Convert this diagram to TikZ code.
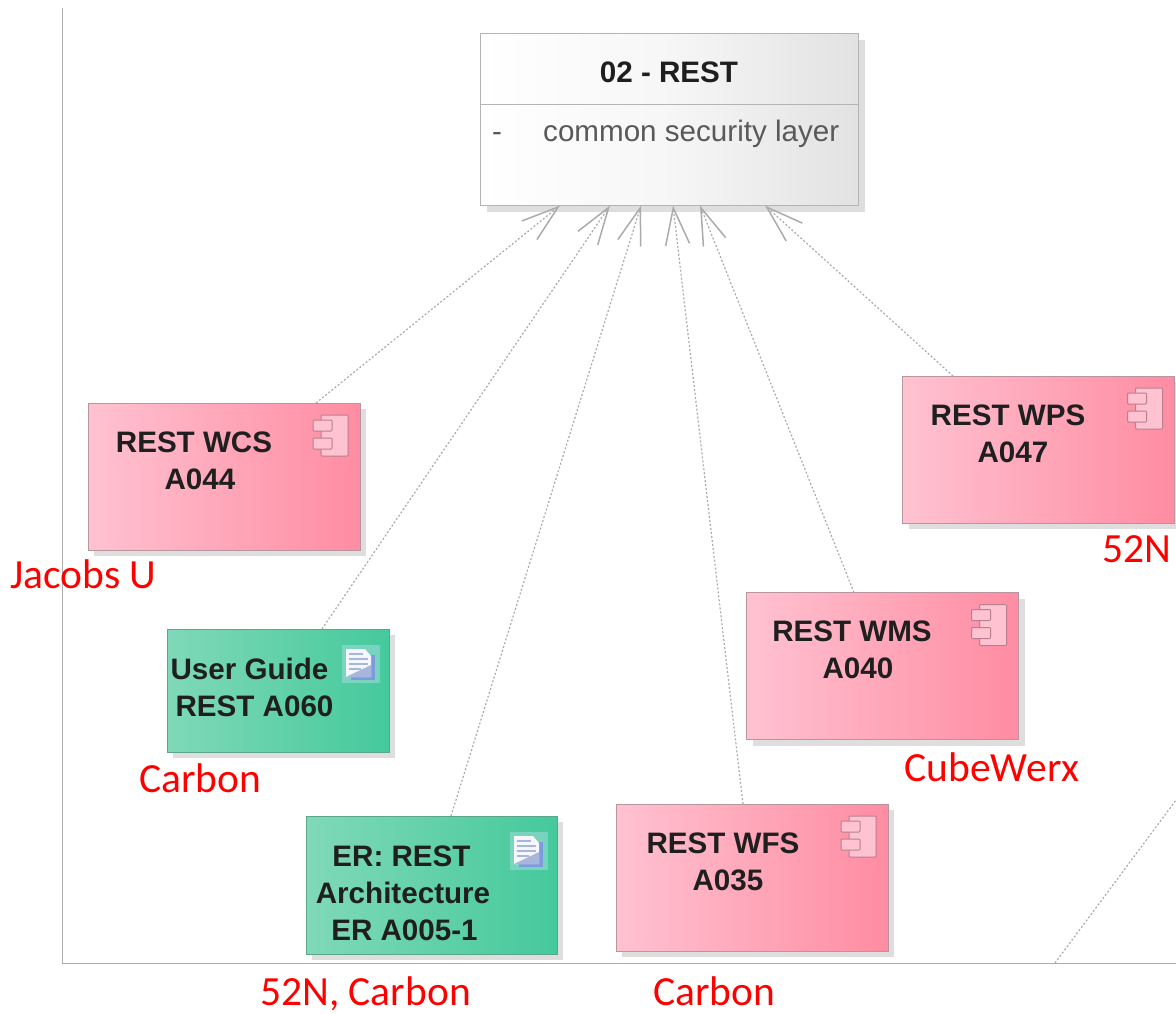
\documentclass[tikz,border=0pt]{standalone}
\usepackage{fontspec}
\setmainfont{Liberation Sans}
\newfontfamily\redfont{Carlito}
\usetikzlibrary{arrows.meta,shadows}
\definecolor{pinkL}{HTML}{FFC2D1}
\definecolor{pinkR}{HTML}{FF8CA2}
\definecolor{greenL}{HTML}{80D9B8}
\definecolor{greenR}{HTML}{45C99C}
\definecolor{grayR}{HTML}{E2E2E2}
\definecolor{edgeC}{HTML}{B4B4B4}
\definecolor{pinkEdge}{HTML}{B8959F}
\definecolor{greenEdge}{HTML}{5AA58B}
\definecolor{iconEdge}{HTML}{B8808F}
\definecolor{docBlue}{HTML}{7C9BDC}
\definecolor{docLine}{HTML}{A9B6DC}
\definecolor{docBg}{HTML}{A9DCE0}
\tikzset{
  x=1pt,y=-1pt,
  boxbase/.style={rectangle,outer sep=0pt,inner sep=0pt,line width=1pt,
    general shadow={fill=black!13,shadow xshift=6pt,shadow yshift=-6pt}},
  pinkbox/.style={boxbase,draw=pinkEdge,left color=pinkL,right color=pinkR,minimum width=272pt,minimum height=147pt},
  greenbox/.style={boxbase,draw=greenEdge,left color=greenL,right color=greenR},
  classbox/.style={boxbase,draw=edgeC,left color=white,right color=grayR,middle color=white!70!grayR,minimum width=378pt,minimum height=172pt},
  boxtext/.style={font=\fontsize{29.6}{37}\selectfont\bfseries,align=center,text=black!88,inner sep=0pt},
  attrtext/.style={font=\fontsize{29.6}{37}\selectfont,text=black!65,inner sep=0pt},
  redtext/.style={font=\redfont\fontsize{41.5}{48}\selectfont,text=red,inner sep=0pt},
  realize/.style={draw=black!33,line width=1.2pt,dash pattern=on 2pt off 2pt,
    -{Straight Barb[length=37pt,width=24pt,line width=1.5pt]}},
  strayline/.style={draw=black!33,line width=1.2pt,dash pattern=on 2pt off 2pt},
  frameline/.style={draw=black!32,line width=1pt},
  iconpart/.style={draw=iconEdge,fill=pinkL,line width=1pt,rounded corners=1pt},
  compicon/.pic={
    \path[iconpart] (-39,12) rectangle (-12,53);
    \path[iconpart] (-47,17) rectangle (-28,28);
    \path[iconpart] (-47,35) rectangle (-28,46);
  },
  docicon/.pic={
    \fill[docBg,opacity=.5] (-47,16) rectangle (-9,54);
    \fill[docBlue] (-38,26) rectangle (-14,51);
    \fill[white!92!docBlue] (-43,20) -- (-24,20) -- (-18,27) -- (-18,48) -- (-43,48) -- cycle;
    \fill[docLine] (-43,48) -- (-18,36) -- (-18,48) -- cycle;
    \draw[docLine,line width=1.1pt] (-40,25) -- (-26,25) (-40,30) -- (-21,30) (-40,35) -- (-21,35) (-40,40) -- (-28,40);
  }
}
\begin{document}
\begin{tikzpicture}
\useasboundingbox (0,0) rectangle (1176,1013);
\draw[frameline] (62,8) -- (62,963) -- (1176,963);

\coordinate (strayA) at (1055,963);
\coordinate (strayB) at (1176,800);
\draw[strayline] (strayA) -- (strayB);

\node[classbox] (rest) at (669.5,119.5) {};
\draw[draw=edgeC,line width=1pt] (rest.west |- 0,104) -- (rest.east |- 0,104);
\node[boxtext] (restT) at (669,72) {02 - REST};
\node[attrtext,anchor=base] (dash) at (497,141) {-};
\node[attrtext,anchor=base west] (attr) at (543,141) {common security layer};

\node[pinkbox] (wcs) at (224,476.5) {};
\node[pinkbox] (wps) at (1038.5,449.5) {};
\node[pinkbox] (wms) at (882.5,666) {};
\node[pinkbox] (wfs) at (752,877.5) {};
\node[greenbox,minimum width=222pt,minimum height=123pt] (ug) at (278,690.5) {};
\node[greenbox,minimum width=251pt,minimum height=138pt] (er) at (431.5,885) {};

\pic at (wcs.north east) {compicon};
\pic at (wps.north east) {compicon};
\pic at (wms.north east) {compicon};
\pic at (wfs.north east) {compicon};
\pic at (ug.north east) {docicon};
\pic at (er.north east) {docicon};

\node[boxtext] (wcsT) at (197,461) {\hspace*{-6pt}REST WCS\\\hspace*{6pt}A044};
\node[boxtext] (wpsT) at (1010.5,434) {\hspace*{-5pt}REST WPS\\\hspace*{5pt}A047};
\node[boxtext] (wmsT) at (855,650) {\hspace*{-6pt}REST WMS\\\hspace*{6pt}A040};
\node[boxtext] (wfsT) at (725.5,862) {\hspace*{-5pt}REST WFS\\\hspace*{5pt}A035};
\node[boxtext] (ugT) at (252,687) {\hspace*{-5pt}User Guide\\\hspace*{5pt}REST A060};
\node[boxtext] (erT) at (403,893) {\hspace*{-3pt}ER: REST\\Architecture\\\hspace*{3pt}ER A005-1};

\draw[realize] ([xshift=92pt]wcs.north) -- ([xshift=-109.5pt]rest.south);
\draw[realize] ([xshift=44pt]ug.north) -- ([xshift=-59.5pt]rest.south);
\draw[realize] ([xshift=19.5pt]er.north) -- ([xshift=-28.5pt]rest.south);
\draw[realize] ([xshift=-9pt]wfs.north) -- ([xshift=3.5pt]rest.south);
\draw[realize] ([xshift=-28.5pt]wms.north) -- ([xshift=30.5pt]rest.south);
\draw[realize] ([xshift=-85.5pt]wps.north) -- ([xshift=95.5pt]rest.south);

\node[redtext] (lab1) at (83.5,574) {Jacobs U};
\node[redtext] (lab2) at (1137,549) {52N};
\node[redtext] (lab3) at (200,778) {Carbon};
\node[redtext] (lab4) at (992,767) {CubeWerx};
\node[redtext,anchor=base] (lab5) at (365.5,1005) {52N, Carbon};
\node[redtext,anchor=base] (lab6) at (714,1005) {Carbon};
\end{tikzpicture}
\end{document}
